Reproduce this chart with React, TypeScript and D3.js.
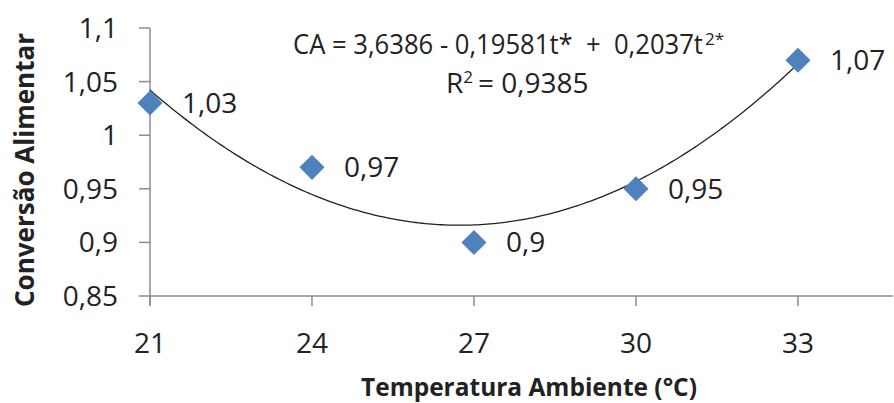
import React from "react";
import * as d3 from "d3";

const temperatures = [21, 24, 27, 30, 33];
const conversion = [1.03, 0.97, 0.9, 0.95, 1.07];
const pointLabels = ["1,03", "0,97", "0,9", "0,95", "1,07"];
// trend curve heights at each temperature
const trendRead = [1.0415, 0.946, 0.916, 0.956, 1.067];
const xTicks = [21, 24, 27, 30, 33];
const yTicks = [0.85, 0.9, 0.95, 1, 1.05, 1.1];
const yTickLabels = ["0,85", "0,9", "0,95", "1", "1,05", "1,1"];
const equationText = "CA = 3,6386 - 0,19581t*  +  0,2037t";
const r2Text = "= 0,9385";

function fitQuadratic(xs: number[], ys: number[]) {
  const m = d3.mean(xs) as number;
  const u = xs.map((x) => x - m);
  const S = (p: number) => d3.sum(u, (v) => Math.pow(v, p));
  const T = (p: number) => d3.sum(u, (v, i) => Math.pow(v, p) * ys[i]);
  const A = [
    [xs.length, S(1), S(2)],
    [S(1), S(2), S(3)],
    [S(2), S(3), S(4)],
  ];
  const B = [T(0), T(1), T(2)];
  const M = A.map((r, i) => [...r, B[i]]);
  for (let i = 0; i < 3; i++) {
    for (let k = i + 1; k < 3; k++) {
      const f = M[k][i] / M[i][i];
      for (let j = i; j < 4; j++) M[k][j] -= f * M[i][j];
    }
  }
  const c = [0, 0, 0];
  for (let i = 2; i >= 0; i--) {
    let s = M[i][3];
    for (let j = i + 1; j < 3; j++) s -= M[i][j] * c[j];
    c[i] = s / M[i][i];
  }
  return (x: number) => c[0] + c[1] * (x - m) + c[2] * (x - m) * (x - m);
}

export default function App() {
  const W = 894;
  const H = 403;
  const x = d3.scaleLinear().domain([21, 34.76]).range([150, 893]);
  const y = d3.scaleLinear().domain([0.85, 1.1]).range([296, 28]);
  const f = fitQuadratic(temperatures, trendRead);
  const samples = d3.range(0, 201).map((i) => 21 + (12 * i) / 200);
  const line = d3
    .line<number>()
    .x((t) => x(t))
    .y((t) => y(f(t)));
  const diamond = d3.symbol().type(d3.symbolDiamond2).size(400)();
  const axisColor = "#8c8c8c";
  const textColor = "#222";
  const font = "'Open Sans', sans-serif";

  return (
    <svg
      width={W}
      height={H}
      style={{ position: "absolute", left: 0, top: 0, background: "#fff" }}
      fontFamily={font}
    >
      <line x1={x(21)} x2={x(21)} y1={y(1.1)} y2={y(0.85) + 10} stroke={axisColor} strokeWidth={1.5} />
      <line x1={x(21)} x2={x(34.76)} y1={y(0.85)} y2={y(0.85)} stroke={axisColor} strokeWidth={1.5} />
      {yTicks.map((v, i) => (
        <g key={"yt" + i}>
          <line x1={x(21) - 11} x2={x(21)} y1={y(v)} y2={y(v)} stroke={axisColor} strokeWidth={1.5} />
          <text x={118} y={y(v) + 10} textAnchor="end" fontSize={28} fill={textColor}>
            {yTickLabels[i]}
          </text>
        </g>
      ))}
      {xTicks.map((v, i) => (
        <g key={"xt" + i}>
          <line x1={x(v)} x2={x(v)} y1={y(0.85)} y2={y(0.85) + 10} stroke={axisColor} strokeWidth={1.5} />
          <text x={x(v)} y={353} textAnchor="middle" fontSize={28} fill={textColor}>
            {String(v)}
          </text>
        </g>
      ))}
      <text
        x={529}
        y={396}
        textAnchor="middle"
        fontSize={25}
        fontWeight="bold"
        fill={textColor}
        textLength={336}
        lengthAdjust="spacingAndGlyphs"
      >
        Temperatura Ambiente (°C)
      </text>
      <text
        transform={`translate(34,170) rotate(-90)`}
        textAnchor="middle"
        fontSize={26}
        fontWeight="bold"
        fill={textColor}
        textLength={274}
        lengthAdjust="spacingAndGlyphs"
      >
        Conversão Alimentar
      </text>
      <path d={line(samples) || ""} fill="none" stroke="#222" strokeWidth={1.3} />
      {temperatures.map((t, i) => (
        <path
          key={"p" + i}
          d={diamond || ""}
          transform={`translate(${x(t)},${y(conversion[i])})`}
          fill="#4F81BD"
        />
      ))}
      {temperatures.map((t, i) => (
        <text key={"l" + i} x={x(t) + 32} y={y(conversion[i]) + 10} fontSize={28} fill={textColor}>
          {pointLabels[i]}
        </text>
      ))}
      <text x={293} y={54} fontSize={28} fill={textColor} style={{ whiteSpace: "pre" }}>
        <tspan textLength={410} lengthAdjust="spacingAndGlyphs">{equationText}</tspan>
        <tspan dy={-9} dx={2} fontSize={17}>2*</tspan>
      </text>
      <text x={446} y={93} fontSize={28} fill={textColor}>
        <tspan>R</tspan>
        <tspan dy={-10} fontSize={17}>2</tspan>
        <tspan dy={10} dx={5}>{r2Text}</tspan>
      </text>
    </svg>
  );
}
